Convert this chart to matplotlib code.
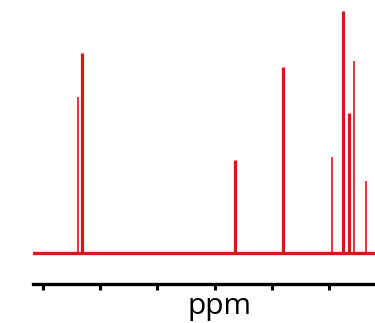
import matplotlib.pyplot as plt

# peak positions (ppm, arbitrary scale) and relative intensities
peak_ppm = [9.384, 9.323, 6.644, 5.806, 4.942, 4.759, 4.660, 4.562, 4.358]
peak_int = [64.5, 82.6, 38.4, 76.9, 39.7, 100.0, 57.9, 79.3, 29.8]
peak_thick = [False, True, True, True, False, True, True, False, False]
tick_ppm = [10, 9, 8, 7, 6, 5]

red = '#d8161e'

fig = plt.figure(figsize=(3.75, 3.23), dpi=100)
W, H = 375, 323
ax = fig.add_axes([33 / W, 1 - 284 / H, 1 - 33 / W, 284 / H])

for x, h, thick in zip(peak_ppm, peak_int, peak_thick):
    ax.vlines(x, 0, h, color=red, linewidth=2.3 if thick else 1.2)
ax.axhline(0, color=red, linewidth=2.4)

ax.set_xlim(10.17, 4.2)
ax.set_ylim(-12.8, 104.55)
ax.set_yticks([])
ax.set_xticks(tick_ppm)
ax.set_xticklabels([])
ax.tick_params(axis='x', direction='out', length=4.5, width=2.2, color='black')
for s in ['top', 'left', 'right']:
    ax.spines[s].set_visible(False)
ax.spines['bottom'].set_linewidth(2.4)

fig.text(220 / W, 1 - 314 / H, 'ppm', ha='center', va='baseline',
         fontsize=21.5, family='Open Sans')

fig.savefig('out.png', dpi=100)
